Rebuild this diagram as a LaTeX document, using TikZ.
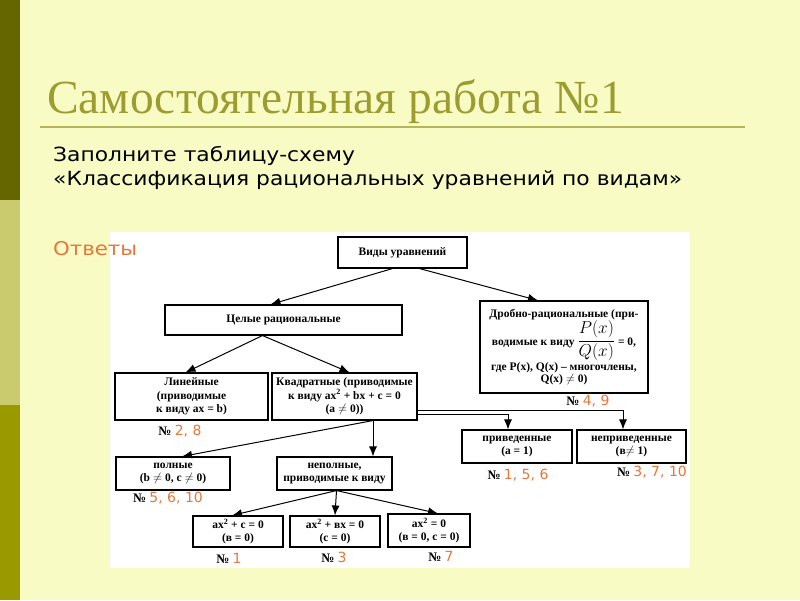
\documentclass[tikz,border=0pt]{standalone}
\usepackage{fontspec}
\setmainfont{Liberation Serif}
\newfontfamily\slidefont{DejaVu Sans}
\newfontfamily\widefont[FakeStretch=1.12]{DejaVu Sans}
\usetikzlibrary{arrows.meta}
\definecolor{slidebg}{HTML}{F8FCC4}
\definecolor{bardark}{HTML}{666600}
\definecolor{barmid}{HTML}{CACA6E}
\definecolor{barlow}{HTML}{9A9A00}
\definecolor{titlecol}{HTML}{9C9C30}
\definecolor{rulecol}{HTML}{B4B45A}
\definecolor{answer}{HTML}{E5783A}
\newcommand{\ans}[1]{{\slidefont\mdseries\fontsize{14}{15}\selectfont\color{answer}#1}}
\newcommand{\pqfrac}{{\fontsize{17}{18}\selectfont$\displaystyle\frac{P(x)}{Q(x)}$}}
\tikzset{
  box/.style={rectangle,draw,line width=1.1pt,align=center,inner sep=1pt,font=\bfseries\fontsize{11.5}{13.5}\selectfont},
  line/.style={-{Latex[length=10pt,width=8pt]},line width=1pt},
  num/.style={inner sep=0pt,font=\bfseries\fontsize{13}{14}\selectfont}
}
\begin{document}
\begin{tikzpicture}[x=1pt,y=-1pt]
\useasboundingbox (0,0) rectangle (800,600);
% slide background
\fill[slidebg] (0,0) rectangle (800,600);
\fill[bardark] (0,0) rectangle (20,200);
\fill[barmid] (0,200) rectangle (20,405);
\fill[barlow] (0,405) rectangle (20,600);
\node[anchor=base west,inner sep=0pt,text=titlecol,font=\fontsize{47.5}{50}\selectfont] (title) at (47,113) {Самостоятельная работа №1};
\draw[rulecol,line width=2pt] (40,127) -- (745,127);
\node[anchor=base west,inner sep=0pt,align=left,font=\widefont\fontsize{19.5}{24}\selectfont] (task) at (53,185) {Заполните таблицу-схему\\«Классификация рациональных уравнений по видам»};
\fill[white] (110,232) rectangle (690,568);
\node[anchor=base west,inner sep=0pt,text=answer,font=\widefont\fontsize{19}{20}\selectfont] (otv) at (53,255) {Ответы};
% scheme
\node[box,minimum width=129pt,minimum height=31pt] (vidy) at (402.5,252.5) {Виды уравнений};
\node[box,minimum width=237pt,minimum height=30pt] (celye) at (283.5,320) {Целые рациональные};
\node[box,minimum width=168pt,minimum height=92pt,font=\bfseries\fontsize{11.5}{12.5}\selectfont] (drob) at (564,347) {Дробно-рациональные (при-\\водимые к виду \pqfrac{} = 0,\\где P(x), Q(x) – многочлены,\\Q(x) $\neq$ 0)};
\node[box,minimum width=153pt,minimum height=47pt] (lin) at (191.5,396.5) {Линейные\\(приводимые\\к виду ax = b)};
\node[box,minimum width=145pt,minimum height=47pt] (kvad) at (344.5,396.5) {Квадратные (приводимые\\к виду ax\textsuperscript{2} + bx + c = 0\\(a $\neq$ 0))};
\node[box,minimum width=114pt,minimum height=33pt] (poln) at (173,473.5) {полные\\(b $\neq$ 0, c $\neq$ 0)};
\node[box,minimum width=115pt,minimum height=33pt] (nepoln) at (334.5,473.5) {неполные,\\приводимые к виду};
\node[box,minimum width=110pt,minimum height=33pt] (priv) at (517,446.5) {приведенные\\(a = 1)};
\node[box,minimum width=109pt,minimum height=33pt] (nepriv) at (631.5,446.5) {неприведенные\\(в$\neq$ 1)};
\node[box,minimum width=90pt,minimum height=31pt] (sqa) at (238,531.5) {ax\textsuperscript{2} + c = 0\\(в = 0)};
\node[box,minimum width=90pt,minimum height=31pt] (sqb) at (335,531.5) {ax\textsuperscript{2} + вx = 0\\(c = 0)};
\node[box,minimum width=82pt,minimum height=33pt] (sqc) at (429,530.5) {ax\textsuperscript{2} = 0\\(в = 0, c = 0)};
% answers
\node[num] (nlin) at (180,431) {№ \ans{2, 8}};
\node[num] (ndrob) at (588,401) {№ \ans{4, 9}};
\node[num] (npriv) at (518,475) {№ \ans{1, 5, 6}};
\node[num] (nnepriv) at (652,472) {№ \ans{3, 7, 10}};
\node[num] (npoln) at (168,498) {№ \ans{5, 6, 10}};
\node[num] (nsqa) at (229,558) {№ \ans{1}};
\node[num] (nsqb) at (334,557) {№ \ans{3}};
\node[num] (nsqc) at (441,556) {№ \ans{7}};
% connectors
\draw[line] ([xshift=-10pt]vidy.south) -- ([xshift=-13pt]celye.north);
\draw[line] ([xshift=17pt]vidy.south) -- ([xshift=-26pt]drob.north);
\draw[line] ([xshift=-21pt]celye.south) -- ([xshift=-6pt]lin.north);
\draw[line] ([xshift=-21pt]celye.south) -- ([xshift=5pt]kvad.north);
\draw[line] ([yshift=6pt]kvad.south east) -| ([xshift=-9pt]priv.north);
\draw[line] ([yshift=10pt]kvad.south east) -| ([xshift=-8.5pt]nepriv.north);
\draw[line] ([xshift=28.5pt]kvad.south) -- ([xshift=38.5pt]nepoln.north);
\draw[line] ([xshift=28.5pt]kvad.south) -- ([xshift=9pt]poln.north);
\draw[line] ([xshift=2pt]nepoln.south) -- ([xshift=-6pt]sqa.north);
\draw[line] ([xshift=2pt]nepoln.south) -- (sqb.north);
\draw[line] ([xshift=2pt]nepoln.south) -- ([xshift=9pt]sqc.north);
\end{tikzpicture}
\end{document}
